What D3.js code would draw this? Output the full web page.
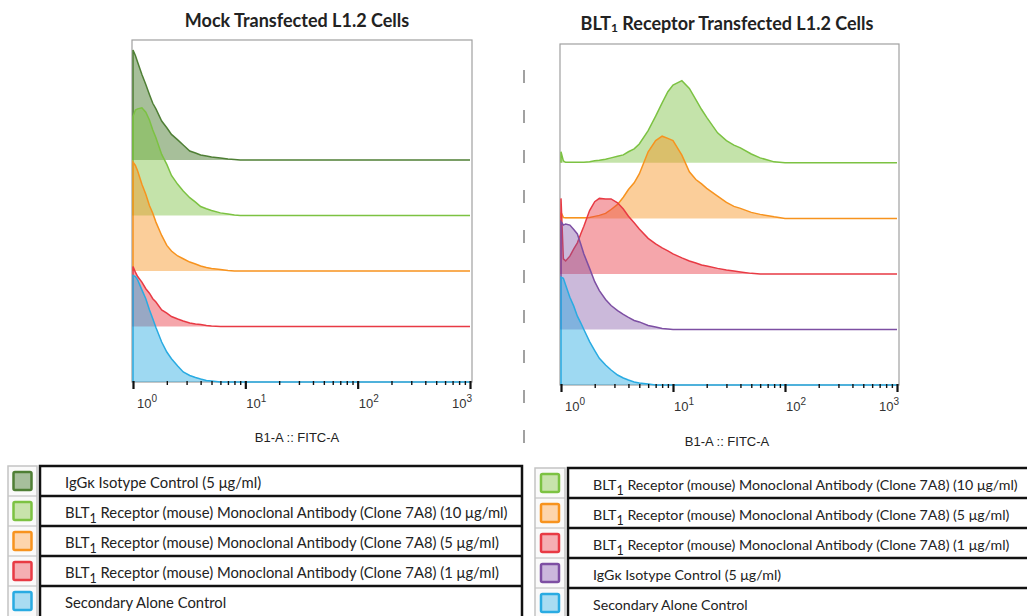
<!DOCTYPE html>
<html lang="en">
<head>
<meta charset="UTF-8">
<title>BLT1 receptor flow histograms</title>
<script src="https://d3js.org/d3.v7.min.js"></script>
<style>
  body { margin: 0; background: #fff; }
  svg { display: block; }
</style>
</head>
<body>
<svg id="canvas" width="1027" height="616"></svg>
<script>
// FITC intensity grid shared by every histogram (log axis, 10^0 .. 10^3)
let fitc = [1, 1.05, 1.1, 1.2, 1.3, 1.4, 1.5, 1.6, 1.8, 2, 2.2, 2.5, 2.8, 3.2, 3.6, 4, 4.5, 5, 6, 7,
            8, 9, 10, 12, 14, 16, 18, 20, 25, 30, 35, 40, 50, 60, 80, 100, 150, 1000]

// mock transfected cells, relative counts (mode ~100)
let mockIgG   = [99, 94, 88, 77, 68, 59, 51, 46, 35, 29, 23, 18, 13.5, 8, 6.3, 4.5, 3.6, 2.7, 1.8, 0.9,
                 0.4, 0, 0, 0, 0, 0, 0, 0, 0, 0, 0, 0, 0, 0, 0, 0, 0, 0]
let mockBlt10 = [89, 95, 96, 97, 93, 86, 77, 70, 55, 46, 36, 28, 22, 16, 12, 8, 6, 4.5, 2.3, 1.4,
                 0.5, 0, 0, 0, 0, 0, 0, 0, 0, 0, 0, 0, 0, 0, 0, 0, 0, 0]
let mockBlt5  = [98, 95, 90, 78, 69, 59, 52, 44, 32, 23, 18, 13.5, 11, 8, 6.3, 4.5, 3.2, 2.3, 1.4, 0.5,
                 0, 0, 0, 0, 0, 0, 0, 0, 0, 0, 0, 0, 0, 0, 0, 0, 0, 0]
let mockBlt1  = [54, 49, 45, 40, 34, 30, 25, 22, 15, 12, 9, 6.8, 5, 3.2, 2.3, 1.8, 0.9, 0.5, 0, 0,
                 0, 0, 0, 0, 0, 0, 0, 0, 0, 0, 0, 0, 0, 0, 0, 0, 0, 0]
let mockSec   = [96, 95, 92, 83, 75, 65, 57, 49, 36, 27, 21, 14.4, 9, 5.9, 4, 2.7, 1.4, 0.9, 0, 0,
                 0, 0, 0, 0, 0, 0, 0, 0, 0, 0, 0, 0, 0, 0, 0, 0, 0, 0]

// BLT1 transfected cells
let bltBlt10 = [10, 1.8, 0.5, 0.5, 0.5, 0.5, 0.5, 0.6, 0.9, 1.8, 2.3, 3.2, 4.5, 5.9, 7.2, 10, 12.6, 17, 29, 42,
                54, 64, 70, 74, 67, 57, 48, 41, 27, 20, 16, 13.5, 8, 4.5, 0.9, 0, 0, 0]
let bltBlt5  = [5.4, 0.9, 0.5, 0.5, 0.5, 0.5, 0.5, 0.6, 0.9, 1.8, 2.7, 4.5, 8, 12.6, 19, 26, 32, 40, 60, 70,
                74, 72, 70, 57, 42, 35, 31, 27, 20, 14.4, 10.8, 9, 5.4, 3.6, 1.4, 0, 0, 0]
let bltBlt1  = [68, 13.5, 11.7, 16, 22.5, 28, 36, 43, 57, 65, 68, 67.5, 67.5, 64, 58.5, 52, 46, 40.5, 32, 27,
                23.4, 20.7, 18, 14.4, 11.7, 9.9, 8.1, 7.2, 5, 3.6, 2.7, 1.8, 0.5, 0, 0, 0, 0, 0]
let bltIgG   = [97, 94, 95, 94, 90, 86, 77, 68, 55, 43, 35, 27, 21.6, 17, 13.5, 10.8, 8.1, 6.8, 3.6, 2.3,
                0.9, 0.5, 0, 0, 0, 0, 0, 0, 0, 0, 0, 0, 0, 0, 0, 0, 0, 0]
let bltSec   = [97, 96, 90, 79, 71, 62, 56, 50, 39, 31, 24, 18, 13.5, 9, 6.3, 4.5, 2.7, 1.8, 0.9, 0,
                0, 0, 0, 0, 0, 0, 0, 0, 0, 0, 0, 0, 0, 0, 0, 0, 0, 0]

let majorTicks = [1, 10, 100, 1000]
let minorTicks = [2, 3, 4, 5, 6, 7, 8, 9, 20, 30, 40, 50, 60, 70, 80, 90, 200, 300, 400, 500, 600, 700, 800, 900]
let tickExp = ["0", "1", "2", "3"]

let mockLegend = ["IgGκ Isotype Control (5 μg/ml)",
                  "BLT₁ Receptor (mouse) Monoclonal Antibody (Clone 7A8) (10 μg/ml)",
                  "BLT₁ Receptor (mouse) Monoclonal Antibody (Clone 7A8) (5 μg/ml)",
                  "BLT₁ Receptor (mouse) Monoclonal Antibody (Clone 7A8) (1 μg/ml)",
                  "Secondary Alone Control"]
let bltLegend = ["BLT₁ Receptor (mouse) Monoclonal Antibody (Clone 7A8) (10 μg/ml)",
                 "BLT₁ Receptor (mouse) Monoclonal Antibody (Clone 7A8) (5 μg/ml)",
                 "BLT₁ Receptor (mouse) Monoclonal Antibody (Clone 7A8) (1 μg/ml)",
                 "IgGκ Isotype Control (5 μg/ml)",
                 "Secondary Alone Control"]

let colors = {
    dkgreen: "#4f7f35", green: "#7cc242", orange: "#f7931e",
    red: "#e83a44", purple: "#7d4fa3", blue: "#29abe2"
}
let swatchFill = {
    dkgreen: "#a7bf9c", green: "#c8e3ab", orange: "#fdd5ad",
    red: "#f5aeb3", purple: "#cbb8dc", blue: "#a9dcf2"
}
let fillOpacity = { dkgreen: 0.5, green: 0.45, orange: 0.45, red: 0.45, purple: 0.4, blue: 0.45 }

let svg = d3.select("#canvas")

let laneStep = 50

// text with the "₁" drawn as a lowered small 1
let richText = (sel, str, subSize, subDy) => {
    let parts = str.split("₁")
    parts.forEach((p, i) => {
        if (i > 0) {
            sel.append("tspan").attr("font-size", subSize).attr("dy", subDy).text("1")
            sel.append("tspan").attr("dy", -subDy).text(p)
        } else {
            sel.append("tspan").text(p)
        }
    })
}

let drawPanel = (cfg) => {
    let g = svg.append("g")
    let x = d3.scaleLog().domain([1, 1000]).range(cfg.xRange)
    let y = d3.scaleLinear().domain([0, cfg.yMax]).range(cfg.yRange)
    let axisY = cfg.yRange[0]

    let title = g.append("text")
        .attr("x", cfg.titleX).attr("y", cfg.titleY)
        .attr("text-anchor", "middle")
        .attr("font-family", "Lato, 'Open Sans', sans-serif")
        .attr("font-weight", "bold").attr("font-size", 18).attr("fill", "#222")
    richText(title, cfg.title, 12, 2)

    // frame
    g.append("rect")
        .attr("x", cfg.box[0]).attr("y", cfg.box[1])
        .attr("width", cfg.box[2] - cfg.box[0]).attr("height", cfg.box[3] - cfg.box[1])
        .attr("fill", "none").attr("stroke", "#a0a0a0").attr("stroke-width", 1.2)

    // histograms, top lane first so the lower ones sit in front
    let n = cfg.series.length
    cfg.series.forEach((s, i) => {
        let off = (n - 1 - i) * laneStep
        let pts = fitc.map((f, k) => [f, s.values[k]])
        let area = d3.area()
            .x(d => x(d[0]))
            .y0(y(off))
            .y1(d => y(off + d[1]))
        let line = d3.line()
            .x(d => x(d[0]))
            .y(d => y(off + d[1]))
        g.append("path").attr("d", area(pts))
            .attr("fill", colors[s.color]).attr("fill-opacity", fillOpacity[s.color])
        g.append("path").attr("d", line([[1, 0]].concat(pts)))
            .attr("fill", "none").attr("stroke", colors[s.color]).attr("stroke-width", 1.5)
    })

    // ticks
    let minorAxis = d3.axisBottom(x).tickValues(minorTicks).tickSize(4).tickFormat("")
    let majorAxis = d3.axisBottom(x).tickValues(majorTicks).tickSize(8).tickFormat("")
    let ga = g.append("g").attr("transform", `translate(0,${axisY - 1})`).call(minorAxis)
    ga.select(".domain").remove()
    ga.selectAll("line").attr("stroke", "#111").attr("stroke-width", 1.4)
    let gb = g.append("g").attr("transform", `translate(0,${axisY - 1})`).call(majorAxis)
    gb.select(".domain").remove()
    gb.selectAll("line").attr("stroke", "#111").attr("stroke-width", 2.2)

    majorTicks.forEach((t, i) => {
        let last = i === majorTicks.length - 1
        let lbl = g.append("text")
            .attr("x", x(t) + (i === 0 ? 4 : last ? 2 : 1))
            .attr("y", axisY + 26)
            .attr("text-anchor", last ? "end" : "start")
            .attr("font-family", "'Liberation Sans', Arial, sans-serif")
            .attr("font-size", 13).attr("fill", "#333")
        lbl.append("tspan").text("10")
        lbl.append("tspan").attr("font-size", 10).attr("dy", -6).text(tickExp[i])
    })

    g.append("text")
        .attr("x", cfg.titleX).attr("y", cfg.xLabelY)
        .attr("text-anchor", "middle")
        .attr("font-family", "'Liberation Sans', Arial, sans-serif")
        .attr("font-size", 13).attr("fill", "#222")
        .text("B1-A :: FITC-A")
}

let drawLegend = (cfg) => {
    let g = svg.append("g")
    let rows = cfg.labels.length
    let h = cfg.rowH
    // swatch column
    g.append("rect")
        .attr("x", cfg.swX).attr("y", cfg.top)
        .attr("width", cfg.boxX - cfg.swX - 3).attr("height", rows * h + 4)
        .attr("fill", "#fafafa").attr("stroke", "#c4c4c4").attr("stroke-width", 1.5)
    d3.range(1, rows).forEach(r => {
        g.append("line")
            .attr("x1", cfg.swX).attr("x2", cfg.boxX - 3)
            .attr("y1", cfg.top + r * h).attr("y2", cfg.top + r * h)
            .attr("stroke", "#c4c4c4").attr("stroke-width", 1.2)
    })
    cfg.colors.forEach((c, r) => {
        let cx = (cfg.swX + cfg.boxX - 3) / 2
        g.append("rect")
            .attr("x", cx - 9).attr("y", cfg.top + r * h + h / 2 - 9)
            .attr("width", 18).attr("height", 18).attr("rx", 1.5)
            .attr("fill", swatchFill[c]).attr("stroke", colors[c]).attr("stroke-width", 2.5)
    })
    // text cells
    g.append("rect")
        .attr("x", cfg.boxX).attr("y", cfg.top)
        .attr("width", cfg.boxRight - cfg.boxX).attr("height", rows * h + 4)
        .attr("fill", "#fff").attr("stroke", "#111").attr("stroke-width", 2.5)
    d3.range(1, rows).forEach(r => {
        g.append("line")
            .attr("x1", cfg.boxX).attr("x2", cfg.boxRight)
            .attr("y1", cfg.top + r * h).attr("y2", cfg.top + r * h)
            .attr("stroke", "#111").attr("stroke-width", 2.5)
    })
    cfg.labels.forEach((l, r) => {
        let t = g.append("text")
            .attr("x", cfg.textX).attr("y", cfg.top + r * h + h / 2 + 7)
            .attr("font-family", "Lato, 'Open Sans', sans-serif")
            .attr("font-size", cfg.fontSize).attr("fill", "#222")
        richText(t, l, 12.5, 5)
    })
}

drawPanel({
    title: "Mock Transfected L1.2 Cells", titleX: 297, titleY: 27, xLabelY: 442,
    xRange: [133, 470], box: [132, 40, 472, 382], yRange: [382, 40], yMax: 308,
    series: [
        { values: mockIgG, color: "dkgreen" },
        { values: mockBlt10, color: "green" },
        { values: mockBlt5, color: "orange" },
        { values: mockBlt1, color: "red" },
        { values: mockSec, color: "blue" }
    ]
})

drawPanel({
    title: "BLT₁ Receptor Transfected L1.2 Cells", titleX: 727, titleY: 30, xLabelY: 446,
    xRange: [561, 897], box: [560, 44, 899, 385], yRange: [385, 44], yMax: 307,
    series: [
        { values: bltBlt10, color: "green" },
        { values: bltBlt5, color: "orange" },
        { values: bltBlt1, color: "red" },
        { values: bltIgG, color: "purple" },
        { values: bltSec, color: "blue" }
    ]
})

// dashed divider between the two panels
svg.append("line")
    .attr("x1", 524).attr("x2", 524).attr("y1", 70).attr("y2", 444)
    .attr("stroke", "#8a8a8a").attr("stroke-width", 1.6)
    .attr("stroke-dasharray", "13 27")

drawLegend({
    labels: mockLegend, colors: ["dkgreen", "green", "orange", "red", "blue"],
    swX: 8, boxX: 40, boxRight: 522, textX: 65, top: 466, rowH: 30, fontSize: 14.8
})
drawLegend({
    labels: bltLegend, colors: ["green", "orange", "red", "purple", "blue"],
    swX: 535, boxX: 568, boxRight: 1040, textX: 593, top: 468, rowH: 30, fontSize: 14.2
})
</script>
</body>
</html>
